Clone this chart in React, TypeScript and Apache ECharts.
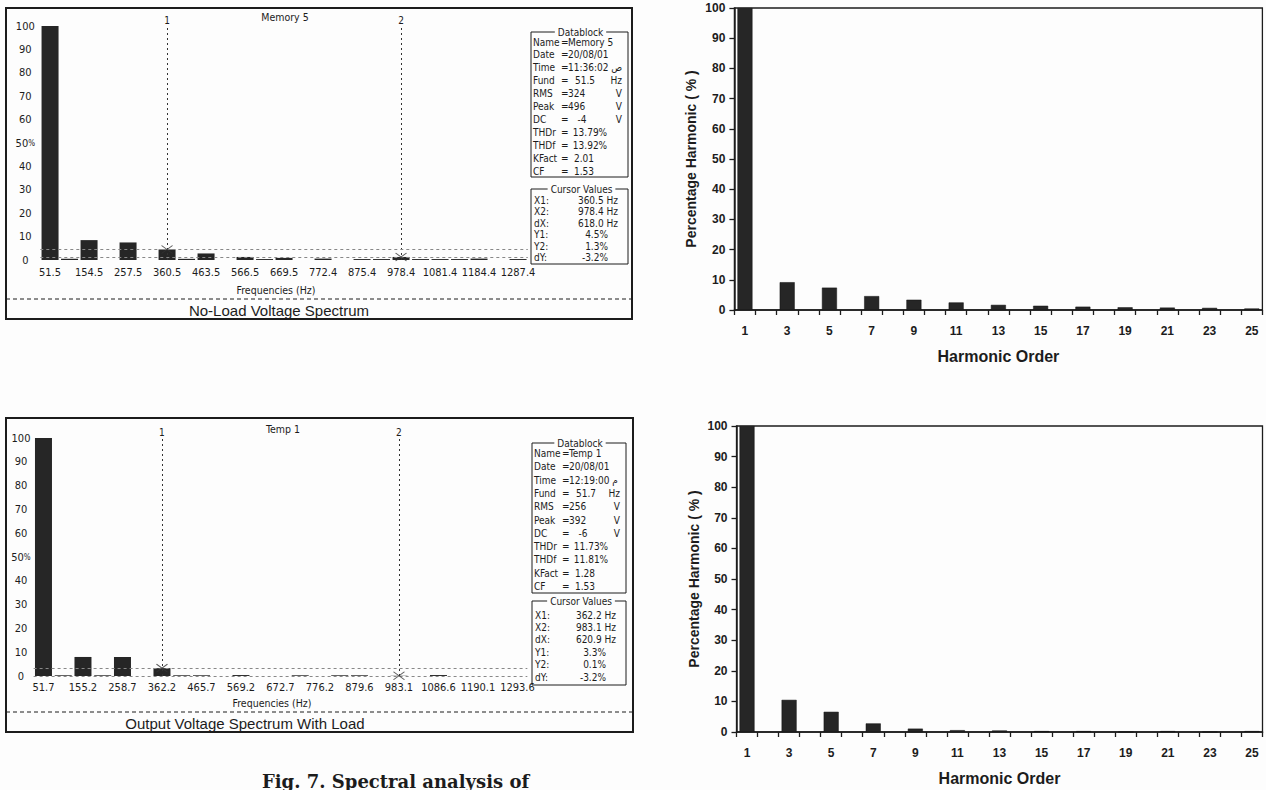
import { useEffect, useRef } from 'react';
import * as echarts from 'echarts';

// ---------------- DATA ----------------
const harmonicOrders = ['1','2','3','4','5','6','7','8','9','10','11','12','13','14','15','16','17','18','19','20','21','22','23','24','25'];

const noLoadFreqTicks = ['51.5','154.5','257.5','360.5','463.5','566.5','669.5','772.4','875.4','978.4','1081.4','1184.4','1287.4'];
const loadFreqTicks = ['51.7','155.2','258.7','362.2','465.7','569.2','672.7','776.2','879.6','983.1','1086.6','1190.1','1293.6'];

// spectrum analyser bars (% of fundamental), harmonic 1..25
const noLoadSpectrum = [100, 0.5, 8.5, 0, 7.5, 0, 4.5, 0.5, 2.8, 0, 1.3, 0.4, 0.9, 0, 0.6, 0, 0.4, 0.4, 1.3, 0.4, 0.4, 0.4, 0.6, 0, 0.4];
const loadSpectrum = [100, 0.3, 8.0, 0.3, 8.0, 0, 3.3, 0.3, 0.3, 0, 0.4, 0, 0, 0.3, 0, 0.3, 0.3, 0, 0.1, 0, 0.4, 0, 0, 0, 0];

// harmonic order charts (odd harmonics only)
const noLoadHarmonics: (number | string)[] = [100, '-', 9.2, '-', 7.4, '-', 4.6, '-', 3.4, '-', 2.5, '-', 1.7, '-', 1.4, '-', 1.1, '-', 0.9, '-', 0.8, '-', 0.7, '-', 0.5];
const loadHarmonics: (number | string)[] = [100, '-', 10.5, '-', 6.6, '-', 2.8, '-', 1.1, '-', 0.6, '-', 0.5, '-', 0.3, '-', 0.3, '-', 0, '-', 0.3, '-', 0, '-', 0.3];

const noLoadDatablock = [
  ['Name', 'Memory 5', ''], ['Date', '20/08/01', ''], ['Time', '11:36:02 ص', ''],
  ['Fund', '51.5', 'Hz'], ['RMS', '324', 'V'], ['Peak', '496', 'V'], ['DC', '-4', 'V'],
  ['THDr', '13.79%', ''], ['THDf', '13.92%', ''], ['KFact', '2.01', ''], ['CF', '1.53', ''],
];
const loadDatablock = [
  ['Name', 'Temp 1', ''], ['Date', '20/08/01', ''], ['Time', '12:19:00 م', ''],
  ['Fund', '51.7', 'Hz'], ['RMS', '256', 'V'], ['Peak', '392', 'V'], ['DC', '-6', 'V'],
  ['THDr', '11.73%', ''], ['THDf', '11.81%', ''], ['KFact', '1.28', ''], ['CF', '1.53', ''],
];
const noLoadCursorValues = [['X1:', '360.5 Hz'], ['X2:', '978.4 Hz'], ['dX:', '618.0 Hz'], ['Y1:', '4.5%'], ['Y2:', '1.3%'], ['dY:', '-3.2%']];
const loadCursorValues = [['X1:', '362.2 Hz'], ['X2:', '983.1 Hz'], ['dX:', '620.9 Hz'], ['Y1:', '3.3%'], ['Y2:', '0.1%'], ['dY:', '-3.2%']];
const noLoadCursors = { x1: '7', x2: '19', y1: 4.5, y2: 1.3 };
const loadCursors = { x1: '7', x2: '19', y1: 3.3, y2: 0.1 };

// ---------------- STYLE / LAYOUT ----------------
const NARROW = "'Liberation Sans Narrow','Arial Narrow','DejaVu Sans Condensed',sans-serif";
const ARIAL = "'Liberation Sans',Arial,sans-serif";
const INK = '#1c1c1c';
const BAR = '#262626';
const DB_FONT = `10px ${NARROW}`;

// value placement inside the datablock: [x offset, align]
const dbValueAnchor: [number, string][] = [
  [37, 'left'], [37, 'left'], [37, 'left'], [54, 'center'], [37, 'left'], [37, 'left'],
  [51, 'center'], [59, 'center'], [59, 'center'], [53, 'center'], [53, 'center'],
];

const leftPanels = [
  {
    data: noLoadSpectrum, ticks: noLoadFreqTicks, cursors: noLoadCursors, db: noLoadDatablock, cv: noLoadCursorValues,
    name: 'Memory 5', title: 'No-Load Voltage Spectrum',
    box: { x: 6, y: 8, w: 626, h: 311 },
    grid: { left: 40.3, top: 26, width: 487.5, height: 234 },
    ylabMargin: 15, xlabMargin: 7, barWidth: 17,
    namePos: [285, 17], freqPos: [276, 290], dashY: 299, titlePos: [279, 310],
    dbBox: { x: 531, y: 32, w: 97, h: 145 }, dbRow0: 42, dbPitch: 12.9,
    cvBox: { x: 531, y: 189, w: 97, h: 75 }, cvRow0: 200.5, cvPitch: 11.4,
  },
  {
    data: loadSpectrum, ticks: loadFreqTicks, cursors: loadCursors, db: loadDatablock, cv: loadCursorValues,
    name: 'Temp 1', title: 'Output Voltage Spectrum With Load',
    box: { x: 6, y: 418, w: 627, h: 314 },
    grid: { left: 33.6, top: 438, width: 493.75, height: 238 },
    ylabMargin: 12.6, xlabMargin: 6, barWidth: 17,
    namePos: [283, 429], freqPos: [272, 703], dashY: 712, titlePos: [245, 723],
    dbBox: { x: 532, y: 443, w: 94, h: 150 }, dbRow0: 453.5, dbPitch: 13.3,
    cvBox: { x: 532, y: 601, w: 94, h: 84 }, cvRow0: 615, cvPitch: 12.4,
  },
];

const rightPanels = [
  { data: noLoadHarmonics, grid: { left: 734.4, top: 8, width: 528, height: 302 } },
  { data: loadHarmonics, grid: { left: 736.5, top: 426, width: 526, height: 306 } },
];

function txt(x: number, y: number, text: string, opts: any = {}) {
  return {
    type: 'text', x, y, silent: true,
    style: {
      text, fill: opts.fill || INK,
      font: opts.font || DB_FONT,
      align: opts.align || 'left', verticalAlign: opts.verticalAlign || 'middle',
      backgroundColor: opts.bg, padding: opts.padding,
    },
  };
}
function rect(x: number, y: number, w: number, h: number, lw = 1) {
  return { type: 'rect', silent: true, shape: { x, y, width: w, height: h }, style: { fill: 'none', stroke: INK, lineWidth: lw } };
}

function buildOption() {
  const grid: any[] = [];
  const xAxis: any[] = [];
  const yAxis: any[] = [];
  const series: any[] = [];
  const graphic: any[] = [];

  leftPanels.forEach((p, i) => {
    grid.push({ ...p.grid });
    xAxis.push({
      gridIndex: i, type: 'category', data: harmonicOrders, boundaryGap: true,
      axisLine: { show: false }, axisTick: { show: false }, splitLine: { show: false },
      axisLabel: {
        interval: 0, margin: p.xlabMargin, fontFamily: NARROW, fontSize: 11, color: INK,
        formatter: (_v: string, idx: number) => (idx % 2 === 0 ? p.ticks[idx / 2] : ''),
      },
    });
    yAxis.push({
      gridIndex: i, type: 'value', min: 0, max: 100, interval: 10,
      axisLine: { show: false }, axisTick: { show: false }, splitLine: { show: false },
      axisLabel: {
        align: 'center', margin: p.ylabMargin, fontFamily: NARROW, fontSize: 11, color: INK,
        formatter: (v: number) => (v === 50 ? '50{p|%}' : String(v)),
        rich: { p: { fontSize: 8, fontFamily: NARROW, color: INK } },
      },
    });
    series.push({
      type: 'bar', xAxisIndex: i, yAxisIndex: i, data: p.data, barWidth: p.barWidth,
      itemStyle: { color: BAR }, silent: true,
      markLine: {
        silent: true, symbol: ['none', 'none'],
        lineStyle: { type: [2, 3], color: '#333', width: 1 },
        label: { position: 'end', distance: 1, fontFamily: NARROW, fontSize: 10, color: INK },
        data: [
          { xAxis: p.cursors.x1, label: { formatter: '1' } },
          { xAxis: p.cursors.x2, label: { formatter: '2' } },
          { yAxis: p.cursors.y1, label: { show: false }, lineStyle: { type: [3, 3], color: '#888', width: 1 } },
          { yAxis: p.cursors.y2, label: { show: false }, lineStyle: { type: [3, 3], color: '#888', width: 1 } },
        ],
      },
    });
    series.push({
      type: 'scatter', xAxisIndex: i, yAxisIndex: i, silent: true, z: 5,
      data: [[p.cursors.x1, p.cursors.y1], [p.cursors.x2, p.cursors.y2]],
      symbol: 'path://M0,0L10,8M10,0L0,8', symbolSize: [11, 8],
      itemStyle: { color: 'rgba(0,0,0,0)', borderColor: '#333', borderWidth: 1 },
    });

    // frame
    graphic.push(rect(p.box.x, p.box.y, p.box.w, p.box.h, 2));
    graphic.push({
      type: 'line', silent: true,
      shape: { x1: p.box.x, y1: p.dashY, x2: p.box.x + p.box.w, y2: p.dashY },
      style: { stroke: INK, lineWidth: 1, lineDash: [4, 3] },
    });
    graphic.push(txt(p.titlePos[0], p.titlePos[1], p.title, { font: `15px ${ARIAL}`, align: 'center' }));
    graphic.push(txt(p.namePos[0], p.namePos[1], p.name, { font: `10.5px ${NARROW}`, align: 'center' }));
    graphic.push(txt(p.freqPos[0], p.freqPos[1], 'Frequencies (Hz)', { font: `10.5px ${NARROW}`, align: 'center' }));

    // datablock
    const d = p.dbBox;
    graphic.push(rect(d.x, d.y, d.w, d.h, 1));
    graphic.push(txt(d.x + d.w / 2 + 1, d.y, 'Datablock', { align: 'center', bg: '#fdfdfd', padding: [0, 3] }));
    p.db.forEach((row, r) => {
      const y = p.dbRow0 + r * p.dbPitch;
      const [dx, al] = dbValueAnchor[r];
      graphic.push(txt(d.x + 2, y, row[0]));
      graphic.push(txt(d.x + 30, y, '='));
      graphic.push(txt(d.x + dx, y, row[1], { align: al }));
      if (row[2]) graphic.push(txt(d.x + d.w - 6, y, row[2], { align: 'right' }));
    });

    // cursor values
    const c = p.cvBox;
    graphic.push(rect(c.x, c.y, c.w, c.h, 1));
    graphic.push(txt(c.x + c.w / 2 + 2, c.y, 'Cursor Values', { align: 'center', bg: '#fdfdfd', padding: [0, 3] }));
    p.cv.forEach((row, r) => {
      const y = p.cvRow0 + r * p.cvPitch;
      const isHz = row[1].indexOf('Hz') >= 0;
      graphic.push(txt(c.x + 3, y, row[0]));
      graphic.push(txt(c.x + (isHz ? c.w - 10 : c.w - 20), y, row[1], { align: 'right' }));
    });
  });

  rightPanels.forEach((p, j) => {
    const i = j + 2;
    grid.push({ ...p.grid, show: true, borderColor: INK, borderWidth: 1.3, backgroundColor: 'transparent' });
    xAxis.push({
      gridIndex: i, type: 'category', data: harmonicOrders, boundaryGap: true,
      name: 'Harmonic Order', nameLocation: 'middle', nameGap: 38,
      nameTextStyle: { fontFamily: ARIAL, fontWeight: 'bold', fontSize: 16, color: INK },
      axisLine: { show: true, lineStyle: { color: INK, width: 1.5 } },
      axisTick: { show: true, interval: 0, length: 5, lineStyle: { color: INK, width: 1.3 } },
      axisLabel: { interval: 1, margin: 15, fontFamily: ARIAL, fontWeight: 'bold', fontSize: 12, color: INK },
      splitLine: { show: false },
    });
    yAxis.push({
      gridIndex: i, type: 'value', min: 0, max: 100, interval: 10,
      name: 'Percentage Harmonic ( % )', nameLocation: 'middle', nameGap: 36, nameRotate: 90,
      nameTextStyle: { fontFamily: ARIAL, fontWeight: 'bold', fontSize: 14, color: INK },
      axisLine: { show: true, lineStyle: { color: INK, width: 1.5 } },
      axisTick: { show: true, length: 5, lineStyle: { color: INK, width: 1.3 } },
      axisLabel: { margin: 9, fontFamily: ARIAL, fontWeight: 'bold', fontSize: 12, color: INK },
      splitLine: { show: false },
    });
    series.push({
      type: 'bar', xAxisIndex: i, yAxisIndex: i, data: p.data, barWidth: 15,
      itemStyle: { color: BAR, borderColor: '#111', borderWidth: 0.5 }, silent: true,
    });
  });

  graphic.push(txt(262, 772, 'Fig. 7. Spectral analysis of', {
    font: `bold 18px 'DejaVu Serif','Liberation Serif',serif`, verticalAlign: 'top',
  }));

  return {
    animation: false,
    backgroundColor: '#fdfdfd',
    grid, xAxis, yAxis, series, graphic,
  };
}

export default function App() {
  const ref = useRef<HTMLDivElement>(null);
  useEffect(() => {
    if (!ref.current) return;
    const chart = echarts.init(ref.current, null, { renderer: 'svg' });
    chart.setOption(buildOption() as any);
    return () => chart.dispose();
  }, []);
  return (
    <div
      ref={ref}
      style={{ position: 'fixed', left: 0, top: 0, width: 1266, height: 790, overflow: 'hidden' }}
    />
  );
}
